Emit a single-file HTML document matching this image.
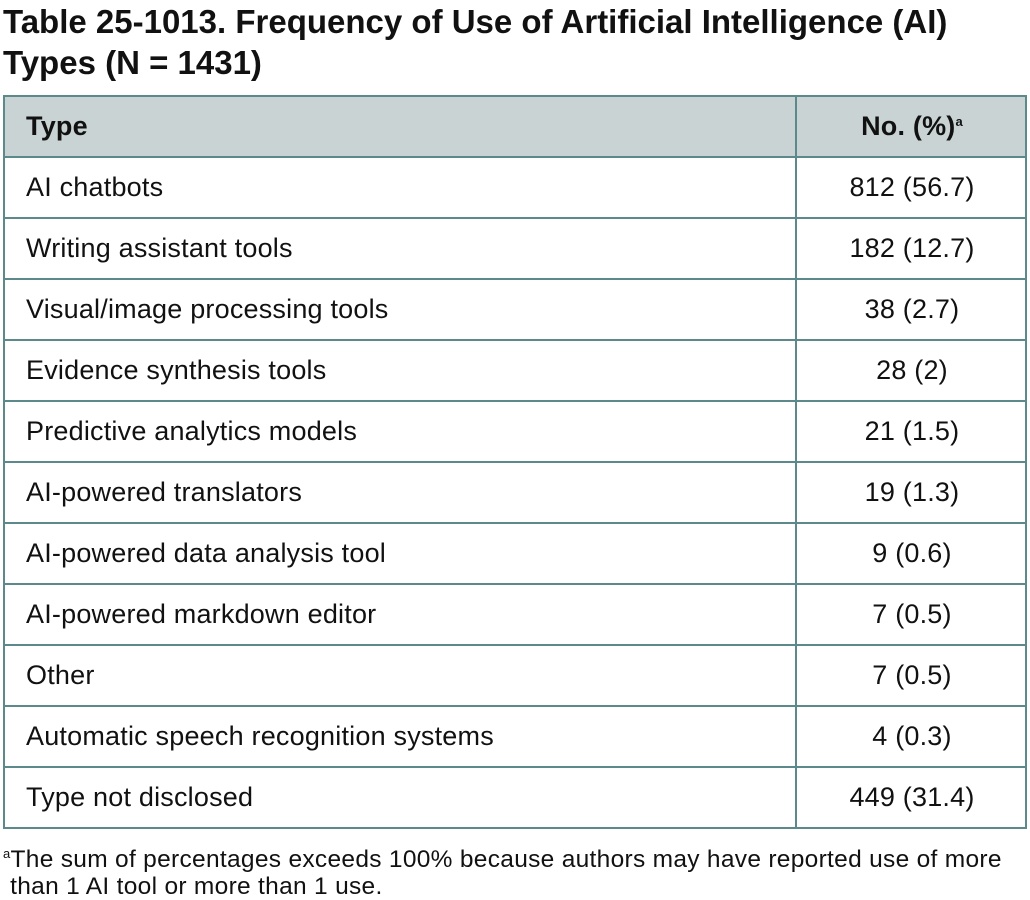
<!DOCTYPE html>
<html><head><meta charset="utf-8"><style>
body{margin:0;background:#fff;width:1030px;height:893px;overflow:hidden;font-family:"Liberation Sans",Arial,sans-serif;color:#111;}
.title{position:absolute;left:3px;top:1px;font-weight:bold;font-size:33px;line-height:41px;letter-spacing:0px}
table{position:absolute;left:3px;top:95px;width:1024px;border-collapse:collapse;}
td,th{border:2px solid #5c8a8a;height:59px;padding:0 0 0 21px;font-size:27px;text-align:left;font-weight:normal;letter-spacing:0.2px}
th{background:#c9d3d3;font-weight:bold}
td.n,th.n{text-align:center;padding:0 0 0 2px;width:226px}
.foot{position:absolute;left:3px;top:840px;font-size:24.5px;line-height:27px;letter-spacing:0.3px}
sup{font-size:13px;vertical-align:9px}
</style></head><body>
<div class="title">Table 25-1013. Frequency of Use of Artificial Intelligence (AI)<br>Types (N = 1431)</div>
<table>
<tr><th>Type</th><th class="n">No. (%)<sup>a</sup></th></tr>
<tr><td>AI chatbots</td><td class="n">812 (56.7)</td></tr>
<tr><td>Writing assistant tools</td><td class="n">182 (12.7)</td></tr>
<tr><td>Visual/image processing tools</td><td class="n">38 (2.7)</td></tr>
<tr><td>Evidence synthesis tools</td><td class="n">28 (2)</td></tr>
<tr><td>Predictive analytics models</td><td class="n">21 (1.5)</td></tr>
<tr><td>AI-powered translators</td><td class="n">19 (1.3)</td></tr>
<tr><td>AI-powered data analysis tool</td><td class="n">9 (0.6)</td></tr>
<tr><td>AI-powered markdown editor</td><td class="n">7 (0.5)</td></tr>
<tr><td>Other</td><td class="n">7 (0.5)</td></tr>
<tr><td>Automatic speech recognition systems</td><td class="n">4 (0.3)</td></tr>
<tr><td>Type not disclosed</td><td class="n">449 (31.4)</td></tr>
</table>
<div class="foot"><sup>a</sup>The sum of percentages exceeds 100% because authors may have reported use of more<br>&nbsp;than 1 AI tool or more than 1 use.</div>
</body></html>
